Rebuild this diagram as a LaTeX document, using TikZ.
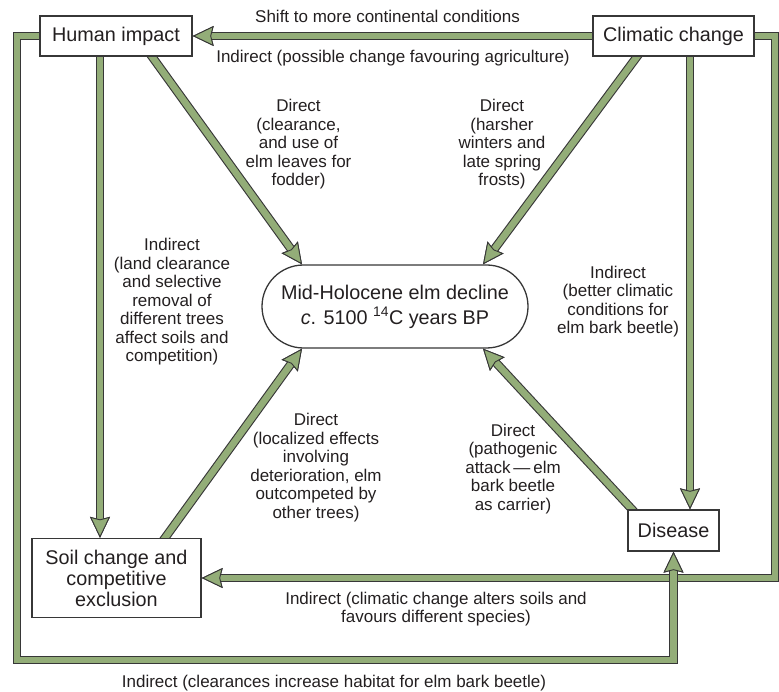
\documentclass[tikz,border=0pt]{standalone}
\usepackage{fontspec}
\setmainfont{Liberation Sans}
\usetikzlibrary{arrows.meta,backgrounds}
\definecolor{leaf}{RGB}{147,173,120}
\definecolor{rim}{RGB}{55,55,55}
\definecolor{ink}{RGB}{35,31,32}

\begin{document}
\begin{tikzpicture}[x=1pt,y=-1pt,
	flowhead/.style={-{Stealth[length=21pt,width=20pt,inset=2.5pt,fill=leaf,color=rim,line width=0.9pt]}},
	flow/.style={draw=leaf,line width=6.6pt,flowhead,preaction={draw=rim,line width=8.8pt,flowhead}},
	box/.style={draw=rim,line width=1.3pt,fill=white,text=ink,align=center,inner sep=0pt,font=\fontsize{19.8}{21}\selectfont},
	lab/.style={text=ink,align=center,inner sep=0pt,font=\fontsize{17}{18.5}\selectfont}]
	\useasboundingbox (0,0) rectangle (779,692);

	\node[box,minimum width=152pt,minimum height=40pt] (hum) at (116,36) {Human impact};
	\node[box,minimum width=161pt,minimum height=40pt] (clim) at (673.5,36) {Climatic change};
	\node[box,minimum width=266pt,minimum height=83pt,rounded corners=41.5pt,font=\fontsize{19.8}{25}\selectfont] (elm) at (395,306.5) {Mid-Holocene elm decline\\\textit{c}. 5100 \textsuperscript{14}C years BP};
	\node[box,minimum width=169pt,minimum height=79pt] (soil) at (116.5,578) {Soil change and\\competitive\\exclusion};
	\node[box,minimum width=91pt,minimum height=41pt] (dis) at (673.5,530.5) {Disease};

	\coordinate (sw) at (17,660);
	\coordinate (ne) at (775,578);

	\begin{scope}[on background layer]
	% outer frames
	\draw[flow] (clim.center) -| (ne) -- (soil.east);
	\draw[flow] (hum.center) -| (sw) -| (dis.south);
	\draw[flow] (clim.center) -- (hum.east);
	% verticals
	\draw[flow] ([xshift=-16pt]hum.south) -- ([xshift=-16.5pt]soil.north);
	\draw[flow] ([xshift=16.5pt]clim.south) -- ([xshift=16.5pt]dis.north);
	% into the elm decline
	\draw[flow] ([xshift=32.4pt,yshift=5pt]hum.south) -- ([xshift=-93pt]elm.north);
	\draw[flow] ([xshift=-32.8pt,yshift=5pt]clim.south) -- ([xshift=88pt]elm.north);
	\draw[flow] ([xshift=44.9pt,yshift=-5pt]soil.north) -- ([xshift=-93pt]elm.south);
	\draw[flow] ([xshift=-36.9pt,yshift=-5pt]dis.north) -- ([xshift=88pt]elm.south);
	\end{scope}

	\node[lab] (shift) at (387.5,16) {Shift to more continental conditions};
	\node[lab] (agri) at (393,58) {Indirect (possible change favouring agriculture)};
	\node[lab] (dclear) at (298.5,144.5) {Direct\\(clearance,\\and use of\\elm leaves for\\fodder)};
	\node[lab] (dfrost) at (502,144.5) {Direct\\(harsher\\winters and\\late spring\\frosts)};
	\node[lab] (iland) at (172,302) {Indirect\\(land clearance\\and selective\\removal of\\different trees\\affect soils and\\competition)};
	\node[lab] (ibeetle) at (618,301.5) {Indirect\\(better climatic\\conditions for\\elm bark beetle)};
	\node[lab] (dlocal) at (316,467.5) {Direct\\(localized effects\\involving\\deterioration, elm\\outcompeted by\\other trees)};
	\node[lab] (dpath) at (513,469) {Direct\\(pathogenic\\attack\,—\,elm\\bark beetle\\as carrier)};
	\node[lab] (isoil) at (436,609) {Indirect (climatic change alters soils and\\favours different species)};
	\node[lab] (ihab) at (334,683) {Indirect (clearances increase habitat for elm bark beetle)};
\end{tikzpicture}
\end{document}
